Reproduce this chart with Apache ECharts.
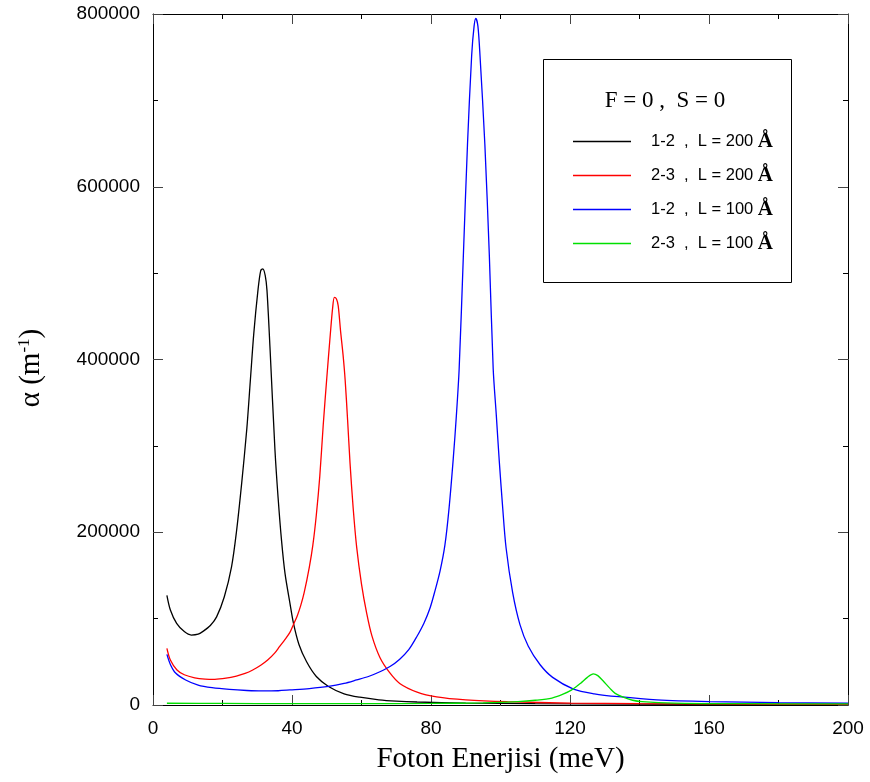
<!DOCTYPE html>
<html>
<head>
<meta charset="utf-8">
<script src="https://cdn.jsdelivr.net/npm/echarts@6/dist/echarts.min.js"></script>
<style>
  html, body { margin: 0; padding: 0; background: #fff; }
  #chart { width: 870px; height: 782px; }
</style>
</head>
<body>
<div id="chart"></div>
<script>
// values: [photon energy (meV), alpha (1/m)]
const black12L200 = [
  [4, 127000], [5, 110000], [6.8, 94500], [9, 85000], [11, 81000], [13, 82000],
  [14.5, 85500], [16.5, 92000], [18.3, 102000], [20.5, 125000], [22.6, 160000],
  [24, 200000], [25.5, 256000], [27, 320000], [28, 375000], [29, 430000],
  [30.2, 480000], [31, 503000], [31.6, 505000], [32.3, 497000], [32.8, 480000],
  [33.7, 411000], [35.1, 295000], [36, 240000], [37, 190000], [38, 152000],
  [39.4, 118000], [40.4, 95000], [42, 70000], [44.2, 50000], [47, 33000],
  [50.5, 21500], [55, 13000], [59.5, 9000], [65, 6000], [70, 4500], [76, 3500],
  [90, 2200], [110, 1500], [140, 1000], [170, 800], [200, 600]
];
const red23L200 = [
  [4, 65600], [5, 52000], [6.9, 40500], [9, 35000], [12, 31500], [15, 30000],
  [17.8, 29700], [21, 31000], [24, 33500], [26.5, 36500], [28.7, 40500],
  [31, 46000], [33, 52000], [35, 60000], [36.4, 67500], [38, 76000],
  [39.4, 84000], [40.4, 93000], [41.5, 103000], [42.5, 115000], [43.5, 130000],
  [45, 160000], [46, 185000], [47, 220000], [48, 265000], [49, 325000],
  [50, 378000], [51, 428000], [51.7, 460000], [52.2, 472000], [52.8, 470000],
  [53.3, 462000], [54, 432000], [54.7, 405000], [55.3, 376000], [56, 330000],
  [56.7, 280000], [57.6, 228000], [58.6, 183000], [60, 140000], [61.5, 106000],
  [63, 80000], [65.3, 55000], [68, 38000], [71, 25000], [76, 15000],
  [81.6, 9500], [90, 6000], [102, 3800], [120, 2200], [140, 1500], [170, 1000],
  [200, 800]
];
const blue12L100 = [
  [4, 58600], [5, 47000], [6.5, 37000], [9.4, 29000], [13, 23000], [17, 20000],
  [22, 18000], [27, 16800], [31.3, 16300], [36, 16500], [39.4, 17400],
  [45, 19000], [50.5, 21500], [55, 25000], [58.6, 29000], [62, 33000],
  [65.3, 38500], [68.2, 44500], [71, 53000], [73.6, 64000], [75.9, 79000],
  [78, 95000], [79.7, 112000], [81, 130000], [82.6, 155000], [84, 185000],
  [85.2, 228000], [86.4, 285000], [87.3, 335000], [88.1, 389000], [89.3, 519000],
  [90.5, 649000], [91.7, 752000], [92.4, 786000], [92.9, 795000], [93.5, 786000],
  [94.1, 752000], [95.5, 649000], [96.8, 519000], [97.9, 389000], [98.8, 335000],
  [99.6, 285000], [100.6, 230000], [101.6, 182000], [103.5, 130000],
  [105.6, 93000], [108, 68000], [111.4, 46600], [115, 32000], [121, 18500],
  [127, 13000], [134, 9600], [145, 6000], [160, 4000], [180, 2800], [200, 2000]
];
const green23L100 = [
  [4, 2000], [20, 1800], [40, 1600], [60, 1500], [80, 1800], [95, 2500],
  [105, 4000], [110, 5500], [114.8, 8000], [118, 12500], [120.5, 17500],
  [123, 25000], [125, 32000], [126.7, 36000], [128, 34000], [129.5, 28000],
  [131.5, 19300], [133, 13500], [135.3, 9000], [138, 5500], [140.7, 3900],
  [150, 2200], [170, 1500], [200, 1200]
];

const seriesNames = ['1-2 , L = 200 Å', '2-3 , L = 200 Å', '1-2 , L = 100 Å', '2-3 , L = 100 Å'];
const seriesColors = ['#000000', '#ff0000', '#0000ff', '#00e000'];
const seriesData = [black12L200, red23L200, blue12L100, green23L100];

const xTicks = { min: 0, max: 200, interval: 40 };
const yTicks = { min: 0, max: 800000, interval: 200000 };

const chart = echarts.init(document.getElementById('chart'), null, { renderer: 'canvas' });

const axisCommon = {
  axisLine: { show: true, onZero: false, lineStyle: { color: '#000', width: 1 } },
  axisTick: { show: true, inside: true, length: 10, lineStyle: { color: '#444' } },
  minorTick: { show: true, splitNumber: 2, length: 5, lineStyle: { color: '#000' } },
  splitLine: { show: false },
  minorSplitLine: { show: false }
};

const option = {
  animation: false,
  backgroundColor: '#fff',
  grid: { left: 153, right: 22, top: 14, bottom: 77 },
  xAxis: [
    Object.assign({
      type: 'value',
      position: 'bottom',
      min: xTicks.min, max: xTicks.max, interval: xTicks.interval,
      name: 'Foton Enerjisi (meV)',
      nameLocation: 'middle',
      nameGap: 40,
      nameTextStyle: { fontFamily: 'Liberation Serif', fontSize: 29, color: '#000' },
      axisLabel: { fontFamily: 'Liberation Sans', fontSize: 19, color: '#000', margin: 14 }
    }, axisCommon),
    Object.assign({
      type: 'value',
      position: 'top',
      min: xTicks.min, max: xTicks.max, interval: xTicks.interval,
      axisLabel: { show: false }
    }, axisCommon)
  ],
  yAxis: [
    Object.assign({
      type: 'value',
      position: 'left',
      min: yTicks.min, max: yTicks.max, interval: yTicks.interval,
      axisLabel: {
        fontFamily: 'Liberation Sans', fontSize: 19, color: '#000', margin: 13,
        formatter: v => String(v)
      }
    }, axisCommon),
    Object.assign({
      type: 'value',
      position: 'right',
      min: yTicks.min, max: yTicks.max, interval: yTicks.interval,
      axisLabel: { show: false }
    }, axisCommon)
  ],
  legend: {
    orient: 'vertical',
    left: 573,
    top: 131,
    padding: 0,
    z: 10,
    itemWidth: 58,
    itemHeight: 1.5,
    itemGap: 13,
    icon: 'rect',
    data: seriesNames,
    formatter: name => {
      const parts = name.split(' , ');
      return parts[0] + '  ,  ' + parts[1].replace(' Å', ' {ang|Å}');
    },
    textStyle: {
      fontFamily: 'Liberation Sans', fontSize: 16.5, color: '#000',
      padding: [0, 0, 0, 15],
      rich: {
        ang: { fontFamily: 'Liberation Serif', fontWeight: 'bold', fontSize: 21, color: '#000' }
      }
    }
  },
  graphic: [
    {
      type: 'rect',
      z: 3,
      shape: { x: 543.5, y: 59.5, width: 248, height: 223 },
      style: { fill: '#fff', stroke: '#000', lineWidth: 1 }
    },
    {
      type: 'text',
      z: 11,
      x: 665, y: 101,
      style: {
        text: 'F = 0 ,  S = 0',
        fontFamily: 'Liberation Serif', fontSize: 23, fill: '#000',
        textAlign: 'center', textVerticalAlign: 'middle'
      }
    },
    {
      type: 'text',
      z: 11,
      x: 31, y: 368,
      rotation: Math.PI / 2,
      style: {
        text: 'α (m{sup|-1})',
        fontFamily: 'Liberation Serif', fontSize: 29, fill: '#000',
        textAlign: 'center', textVerticalAlign: 'middle',
        rich: {
          sup: { fontFamily: 'Liberation Serif', fontSize: 17, fill: '#000', verticalAlign: 'top', padding: [0, 0, 10, 0] }
        }
      }
    }
  ],
  series: seriesData.map((d, i) => ({
    name: seriesNames[i],
    type: 'line',
    xAxisIndex: 0,
    yAxisIndex: 0,
    data: d,
    showSymbol: false,
    symbol: 'none',
    smooth: 0.3,
    color: seriesColors[i],
    lineStyle: { width: 1.3, color: seriesColors[i] }
  }))
};

chart.setOption(option);
</script>
</body>
</html>
